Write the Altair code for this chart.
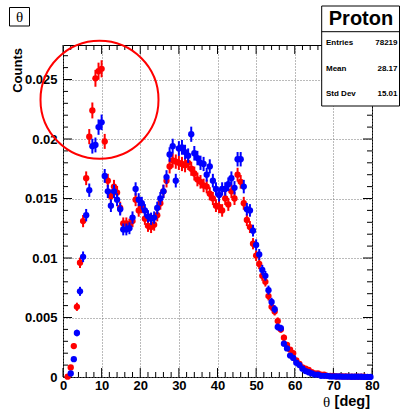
import altair as alt
import pandas as pd

# ---------------- data ----------------
BIN_W = 0.8
theta = [round(0.4 + BIN_W * i, 1) for i in range(100)]

red = [None, 0.00003, 0.0008, 0.0026, 0.0059, 0.0096, 0.0131, 0.0167, 0.0202, 0.0224,
       0.0251, 0.0257, 0.0259, 0.0198, 0.0165, 0.0152, 0.0160, 0.0155, 0.0142, 0.0129,
       0.0129, 0.0128, 0.0131, 0.0149, 0.0140, 0.0143, 0.0133, 0.0127, 0.0126, 0.0128,
       0.0136, 0.0146, 0.0156, 0.0165, 0.0177, 0.0182, 0.0181, 0.0180, 0.0179, 0.0178,
       0.0180, 0.0175, 0.0171, 0.0166, 0.0164, 0.0161, 0.0160, 0.0154, 0.0150, 0.0144,
       0.0143, 0.0140, 0.0150, 0.0145, 0.0156, 0.0150, 0.0170, 0.0164, 0.0146, 0.0132,
       0.0126, 0.0112, 0.0102, 0.0095, 0.0085, 0.0080, 0.0068, 0.0059, 0.0055, 0.0047,
       0.0040, 0.0033, 0.0027, 0.0023, 0.0020, 0.0014, 0.0011, 0.0008, 0.0007, 0.0006,
       0.0004, 0.0003, 0.0003, 0.0002, 0.0002, 0.0001, 0.0001, 0.0001, 0.00005, 0.00005,
       0.00004, 0.00004, 0.00003, 0.00003, 0.00003, 0.00002, 0.00002, 0.00002, None, None]

blue = [None, None, 0.0003, 0.0015, 0.0037, 0.0072, 0.0101, 0.0136, 0.0157, 0.0194,
        0.0195, 0.0210, 0.0214, 0.0169, 0.0156, 0.0144, 0.0156, 0.0149, 0.0141, 0.0124,
        0.0124, 0.0125, 0.0134, 0.0158, 0.0149, 0.0146, 0.0140, 0.0135, 0.0133, 0.0134,
        0.0142, 0.0150, 0.0156, 0.0168, 0.0187, 0.0194, 0.0165, 0.0192, 0.0193, 0.0189,
        0.0186, 0.0204, 0.0188, 0.0184, 0.0180, 0.0179, 0.0170, 0.0177, 0.0165, 0.0158,
        0.0153, 0.0158, 0.0158, 0.0162, 0.0167, 0.0159, 0.0183, 0.0183, 0.0160, 0.0141,
        0.0140, 0.0123, 0.0111, 0.0103, 0.0090, 0.0085, 0.0073, 0.0063, 0.0057, 0.0042,
        0.0041, 0.0028, 0.0024, 0.0018, 0.0016, 0.0012, 0.0010, 0.0007, 0.0005, 0.0004,
        0.0003, 0.0002, 0.0002, 0.0001, 0.0001, 0.0001, 0.00005, 0.00005, 0.00004, 0.00004,
        0.00003, 0.00003, 0.00003, 0.00002, 0.00002, 0.00002, 0.00002, 0.00001, 0.00001, 0.00001]

x_major = [0, 10, 20, 30, 40, 50, 60, 70, 80]
x_minor = [v for v in range(0, 81, 2) if v % 10 != 0]
y_major = [0, 0.005, 0.01, 0.015, 0.02, 0.025]
y_minor = [round(i * 0.001, 3) for i in range(0, 28) if i % 5 != 0]

hist_title = "θ"
hist_name = "Proton"
stat_names = ["Entries", "Mean", "Std Dev"]
stat_values = ["78219", "28.17", "15.01"]
x_title_sym = "θ"
x_title_unit = "[deg]"
y_title = "Counts"

N_EFF = 50000  # effective statistics for the error bars

# ---------------- layout ----------------
W, H = 309, 332
FONT = "Liberation Sans"

xs = alt.Scale(domain=[0, 80], nice=False, zero=False)
ys = alt.Scale(domain=[0, 0.0279], nice=False, zero=False)

xaxis = alt.Axis(values=x_major, format="d", title=None, ticks=False, tickSize=0,
                 domain=False, grid=True, gridDash=[1, 2], gridColor="#777777",
                 gridWidth=1, labelFont=FONT, labelFontWeight="bold", labelFontSize=13,
                 labelColor="black", labelPadding=2, labelFlush=False, labelOverlap=False)
yaxis = alt.Axis(values=y_major, format="~g", title=None, ticks=False, tickSize=0,
                 domain=False, grid=True, gridDash=[1, 2], gridColor="#777777",
                 gridWidth=1, labelFont=FONT, labelFontWeight="bold", labelFontSize=13,
                 labelColor="black", labelPadding=6, labelFlush=False, labelOverlap=False)

one = alt.Data(values=[{"a": 1}])


def series_layers(vals, color):
    d = pd.DataFrame({"theta": [t for t, v in zip(theta, vals) if v is not None],
                      "v": [v for v in vals if v is not None]})
    base = alt.Chart(d).transform_calculate(
        err=f"sqrt(datum.v / {N_EFF})",
        lo="max(0, datum.v - datum.err)",
        hi="datum.v + datum.err",
        xlo=f"datum.theta - {BIN_W / 2}",
        xhi=f"datum.theta + {BIN_W / 2}",
    )
    vbar = base.mark_rule(color=color, strokeWidth=2).encode(
        x=alt.X("theta:Q", scale=xs, axis=xaxis),
        y=alt.Y("lo:Q", scale=ys, axis=yaxis),
        y2="hi:Q",
    )
    hbar = base.mark_rule(color=color, strokeWidth=2).encode(
        x=alt.X("xlo:Q", scale=xs, axis=xaxis),
        x2="xhi:Q",
        y=alt.Y("v:Q", scale=ys, axis=yaxis),
    )
    pts = base.mark_point(shape="circle", filled=True, opacity=1, size=40,
                          color=color, strokeWidth=0).encode(
        x=alt.X("theta:Q", scale=xs, axis=xaxis),
        y=alt.Y("v:Q", scale=ys, axis=yaxis),
    )
    return [vbar, hbar, pts]


def xticks(vals, length):
    d = pd.DataFrame({"t": vals})
    bot = alt.Chart(d).mark_rule(color="black", strokeWidth=1).encode(
        x=alt.X("t:Q", scale=xs, axis=xaxis), y=alt.value(H), y2=alt.value(H - length))
    top = alt.Chart(d).mark_rule(color="black", strokeWidth=1).encode(
        x=alt.X("t:Q", scale=xs, axis=xaxis), y=alt.value(0), y2=alt.value(length))
    return [bot, top]


def yticks(vals, length):
    d = pd.DataFrame({"t": vals})
    left = alt.Chart(d).mark_rule(color="black", strokeWidth=1).encode(
        y=alt.Y("t:Q", scale=ys, axis=yaxis), x=alt.value(0), x2=alt.value(length))
    right = alt.Chart(d).mark_rule(color="black", strokeWidth=1).encode(
        y=alt.Y("t:Q", scale=ys, axis=yaxis), x=alt.value(W), x2=alt.value(W - length))
    return [left, right]


layers = []
layers += xticks(x_major, 9) + xticks(x_minor, 5)
layers += yticks(y_major, 9) + yticks(y_minor, 5)
layers += series_layers(red, "#ff0000")
layers += series_layers(blue, "#0000ff")

# red annotation circle
layers.append(alt.Chart(one).mark_point(shape="circle", filled=False, size=13924,
                                         color="#ff0000", strokeWidth=2, opacity=1).encode(
    x=alt.value(36.5), y=alt.value(54.7)))

# title box
layers.append(alt.Chart(one).mark_rect(fill="white", stroke="black", strokeWidth=1).encode(
    x=alt.value(-53.5), x2=alt.value(-33.5), y=alt.value(-37.5), y2=alt.value(-19)))
layers.append(alt.Chart(one).mark_text(font="Liberation Serif", fontSize=15, color="black",
                                        align="center", baseline="middle").encode(
    x=alt.value(-43.5), y=alt.value(-28), text=alt.value(hist_title)))

# stats box
layers.append(alt.Chart(one).mark_rect(fill="white", stroke="black", strokeWidth=1).encode(
    x=alt.value(258.7), x2=alt.value(336.5), y=alt.value(-39), y2=alt.value(61)))
layers.append(alt.Chart(one).mark_rule(color="black", strokeWidth=1).encode(
    x=alt.value(258.7), x2=alt.value(336.5), y=alt.value(-13.3)))
layers.append(alt.Chart(one).mark_text(font=FONT, fontWeight="bold", fontSize=20,
                                        color="black", align="center", baseline="middle").encode(
    x=alt.value(298), y=alt.value(-26), text=alt.value(hist_name)))
for i, (nm, val) in enumerate(zip(stat_names, stat_values)):
    yy = -2 + i * 25.5
    layers.append(alt.Chart(one).mark_text(font=FONT, fontWeight="bold", fontSize=8,
                                            color="black", align="left", baseline="middle").encode(
        x=alt.value(263), y=alt.value(yy), text=alt.value(nm)))
    layers.append(alt.Chart(one).mark_text(font=FONT, fontWeight="bold", fontSize=8,
                                            color="black", align="right", baseline="middle").encode(
        x=alt.value(334.5), y=alt.value(yy), text=alt.value(val)))

# axis titles
layers.append(alt.Chart(one).mark_text(font=FONT, fontWeight="bold", fontSize=13, color="black",
                                        align="right", baseline="middle", angle=270).encode(
    x=alt.value(-45.5), y=alt.value(3), text=alt.value(y_title)))
layers.append(alt.Chart(one).mark_text(font=FONT, fontWeight="bold", fontSize=14.5, color="black",
                                        align="right", baseline="middle").encode(
    x=alt.value(307), y=alt.value(356.5), text=alt.value(x_title_unit)))
layers.append(alt.Chart(one).mark_text(font="Liberation Serif", fontSize=15, color="black",
                                        align="center", baseline="middle").encode(
    x=alt.value(263.5), y=alt.value(356.5), text=alt.value(x_title_sym)))

chart = alt.layer(*layers).properties(
    width=W, height=H,
    padding={"left": 63, "top": 45, "right": 28, "bottom": 35},
    autosize=alt.AutoSizeParams(type="none"),
    background="white",
).configure_view(stroke="black", strokeWidth=1)

chart.save("out.html", embed_options={"renderer": "svg", "actions": False})
